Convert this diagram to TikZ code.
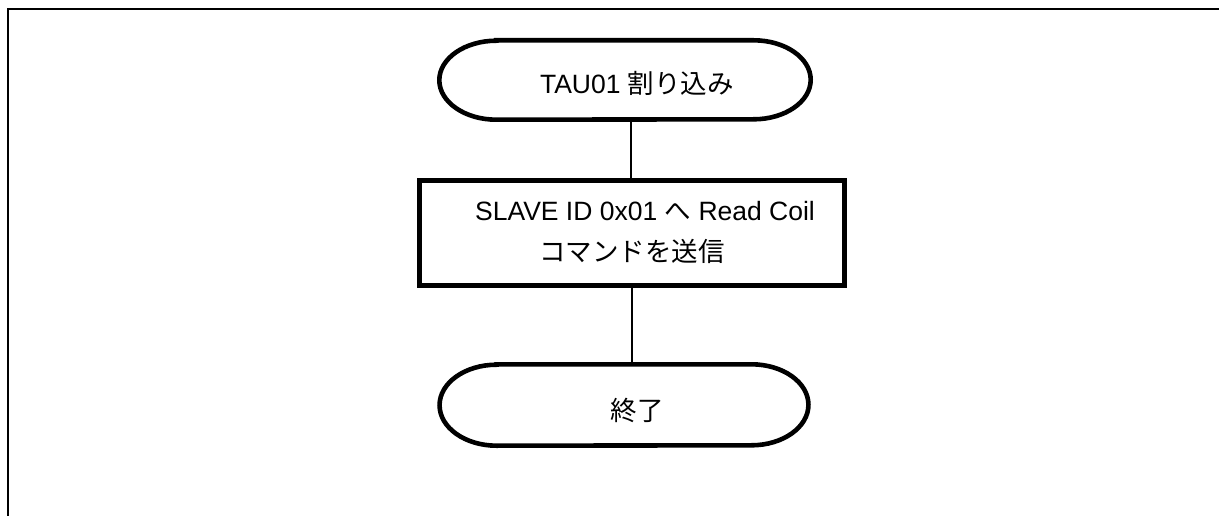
\documentclass[tikz,border=0pt]{standalone}
\usepackage{fontspec}
\setmainfont{Liberation Sans}
\newfontfamily\jp{Noto Sans CJK JP}
\newcommand{\termpath}[1]{%
  \draw[line width=4.6pt] ([xshift=57pt]#1.north west) -- ([xshift=-57pt]#1.north east)
    arc[start angle=90,end angle=-90,x radius=57pt,y radius=0.5*\pgfkeysvalueof{/pgf/minimum height}]
    -- ([xshift=57pt]#1.south west)
    arc[start angle=270,end angle=90,x radius=57pt,y radius=0.5*\pgfkeysvalueof{/pgf/minimum height}] -- cycle;}
\begin{document}
\begin{tikzpicture}[x=1pt,y=-1pt,
  term/.style={draw=none,minimum width=371pt,inner sep=0pt},
  proc/.style={draw,line width=4.6pt,minimum width=425pt,minimum height=105pt,inner sep=0pt},
  conn/.style={line width=1.4pt},
  lbl/.style={font=\fontsize{26.5}{32}\selectfont,inner sep=0pt,anchor=center}]
\useasboundingbox (0,0) rectangle (1219,516);
\draw[line width=2pt] (1219,9) -- (7.5,9) -- (7.5,516);
\node[term,minimum height=79pt] (start) at (625,80) {};
\begin{scope}[minimum height=79pt]\termpath{start}\end{scope}
\node[proc] (send) at (632,233) {};
\node[term,minimum height=81pt,minimum width=368.5pt] (end) at (624,405) {};
\begin{scope}[minimum height=81pt]\termpath{end}\end{scope}
\draw[conn] (start.south -| 631,0) -- (send.north -| 631,0);
\draw[conn] (send.south -| 632,0) -- (end.north -| 632,0);
\node[lbl] (t1) at (637,83) {TAU01 {\jp 割り込み}};
\node[lbl] (t2) at (645,211) {SLAVE ID 0x01 {\jp へ} Read Coil};
\node[lbl] (t3) at (632,251) {\jp コマンドを送信};
\node[lbl] (t4) at (637,410) {\jp 終了};
\end{tikzpicture}
\end{document}
